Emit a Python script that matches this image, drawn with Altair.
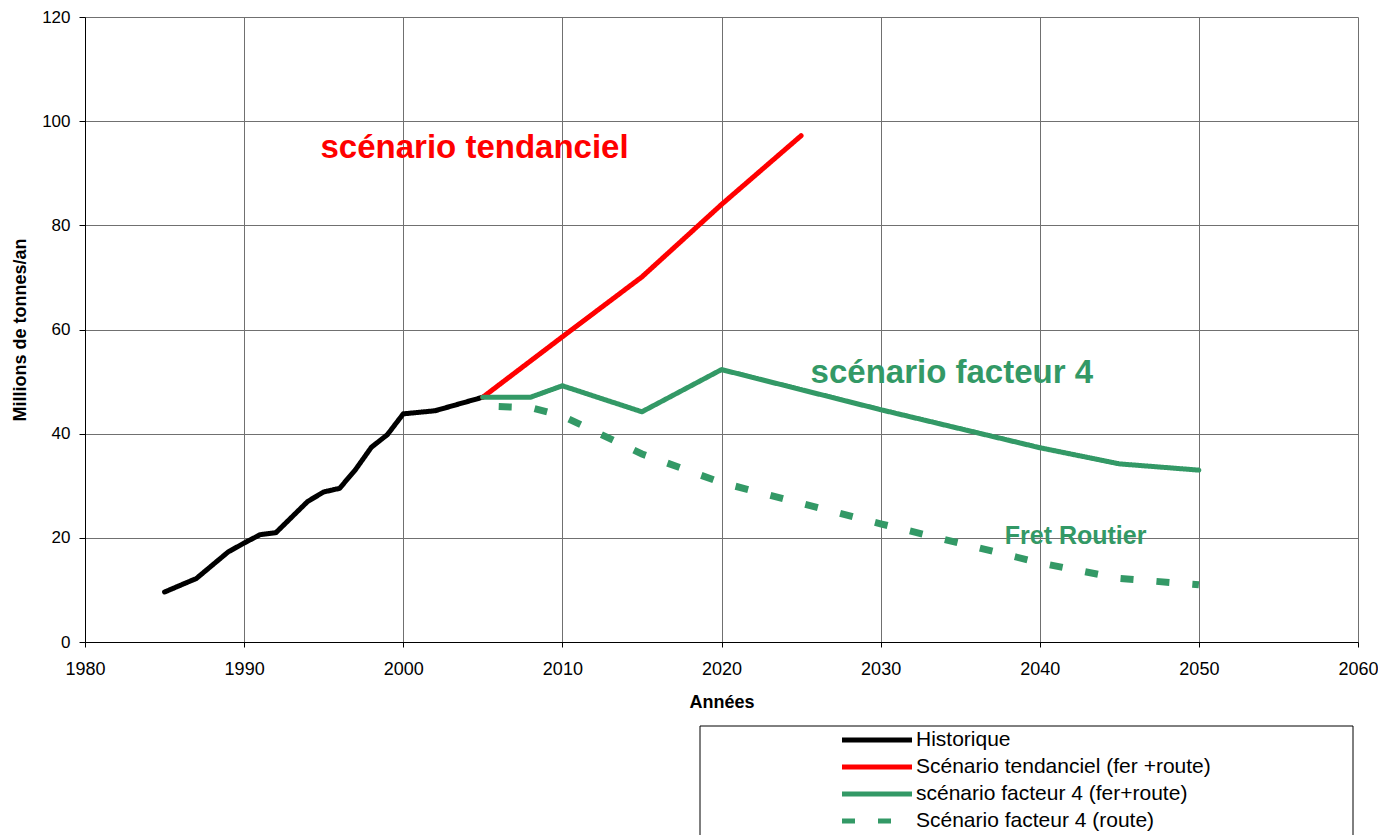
import altair as alt
import pandas as pd

# ---- data ----
hist_years = [1985, 1987, 1989, 1990, 1991, 1992, 1993, 1994, 1995, 1996, 1997, 1998, 1999, 2000, 2002, 2005]
hist_vals = [9.6, 12.2, 17.3, 19.0, 20.6, 21.0, 24.0, 27.0, 28.8, 29.5, 33.1, 37.4, 39.8, 43.8, 44.4, 47.0]

tend_years = [2005, 2010, 2015, 2020, 2025]
tend_vals = [47.0, 58.6, 70.1, 84.0, 97.2]

f4_years = [2005, 2008, 2010, 2015, 2020, 2030, 2040, 2045, 2050]
f4_vals = [47.0, 47.0, 49.2, 44.2, 52.3, 44.6, 37.3, 34.2, 33.0]

route_years = [2006, 2008, 2010, 2015, 2020, 2030, 2040, 2045, 2050]
route_vals = [45.2, 45.0, 43.4, 36.1, 30.6, 22.7, 15.2, 12.2, 11.0]

series_names = [
    "Historique",
    "Scénario tendanciel (fer +route)",
    "scénario facteur 4 (fer+route)",
    "Scénario facteur 4 (route)",
]
series_colors = ["#000000", "#FF0000", "#339966", "#339966"]
series_dash = [[1, 0], [1, 0], [1, 0], [13, 23]]

ann_texts = ["scénario tendanciel", "scénario facteur 4", "Fret Routier"]
ann_x = [1994.8, 2025.6, 2037.8]
ann_y = [92.9, 49.7, 18.8]
ann_colors = ["#FF0000", "#339966", "#339966"]
ann_sizes = [33, 33, 25]

x_ticks = [1980, 1990, 2000, 2010, 2020, 2030, 2040, 2050, 2060]
y_ticks = [0, 20, 40, 60, 80, 100, 120]

FONT = "Liberation Sans"

rows = []
for name, ys, vs in zip(series_names,
                        [hist_years, tend_years, f4_years, route_years],
                        [hist_vals, tend_vals, f4_vals, route_vals]):
    for y, v in zip(ys, vs):
        rows.append({"year": y, "value": v, "series": name})
df = pd.DataFrame(rows)

x_enc = alt.X("year:Q",
              scale=alt.Scale(domain=[1980, 2060], nice=False, zero=False),
              axis=alt.Axis(values=x_ticks, format="d", title="Années",
                            grid=True, gridColor="#707070", gridWidth=1,
                            domainColor="#000000", tickColor="#000000",
                            tickSize=5, labelPadding=13, labelFontSize=18,
                            labelFont=FONT, labelColor="#000000", labelFlush=False,
                            titleFont=FONT, titleFontSize=18, titleFontWeight="bold",
                            titleColor="#000000", titlePadding=15))
y_enc = alt.Y("value:Q",
              scale=alt.Scale(domain=[0, 120], nice=False),
              axis=alt.Axis(values=y_ticks, title="Millions de tonnes/an",
                            grid=True, gridColor="#707070", gridWidth=1,
                            domainColor="#000000", tickColor="#000000",
                            tickSize=6, labelPadding=9, labelFontSize=17,
                            labelFont=FONT, labelColor="#000000", labelFlush=False,
                            titleFont=FONT, titleFontSize=18, titleFontWeight="bold",
                            titleColor="#000000", titlePadding=12))

legend_opts = dict(orient="none", legendX=779.5, legendY=710.5,
                   title=None, symbolType="M-3.5,0H3.5",
                   symbolSize=400, symbolStrokeWidth=5,
                   labelFontSize=21, labelFont=FONT,
                   labelColor="#000000", labelOffset=26.5,
                   labelLimit=0, padding=0, rowPadding=4)

color_enc = alt.Color("series:N",
                      scale=alt.Scale(domain=series_names, range=series_colors),
                      legend=alt.Legend(**legend_opts))
dash_enc = alt.StrokeDash("series:N",
                          scale=alt.Scale(domain=series_names, range=series_dash),
                          legend=alt.Legend(**legend_opts))

solid = alt.Chart(df).transform_filter(
    alt.datum.series != series_names[3]
).mark_line(strokeWidth=5, strokeCap="round", strokeJoin="round").encode(
    x=x_enc, y=y_enc, color=color_enc, strokeDash=dash_enc, detail="series:N",
    order="year:Q"
)
dashed = alt.Chart(df).transform_filter(
    alt.datum.series == series_names[3]
).mark_line(strokeWidth=7, strokeCap="butt").encode(
    x=x_enc, y=y_enc, color=color_enc, strokeDash=dash_enc, order="year:Q"
)

ann_layers = []
for t, ax, ay, c, s in zip(ann_texts, ann_x, ann_y, ann_colors, ann_sizes):
    ann_layers.append(
        alt.Chart(pd.DataFrame({"text": [t], "year": [ax], "value": [ay]}))
        .mark_text(align="left", baseline="alphabetic", font=FONT,
                   fontWeight="bold", fontSize=s, color=c)
        .encode(x=alt.X("year:Q"), y=alt.Y("value:Q"), text="text:N")
    )

box = alt.Chart(pd.DataFrame({"k": [0]})).mark_rect(
    fill="white", stroke="#000000", strokeWidth=1
).encode(x=alt.value(615), x2=alt.value(1268), y=alt.value(709), y2=alt.value(840))

chart = alt.layer(box, solid, dashed, *ann_layers).properties(
    width=1273, height=625,
    autosize=alt.AutoSizeParams(type="none"),
    padding={"left": 77, "top": 9, "right": 20, "bottom": 193},
    background="white",
).configure_view(stroke=None)

chart.save("out.html", embed_options={"renderer": "svg", "actions": False})
